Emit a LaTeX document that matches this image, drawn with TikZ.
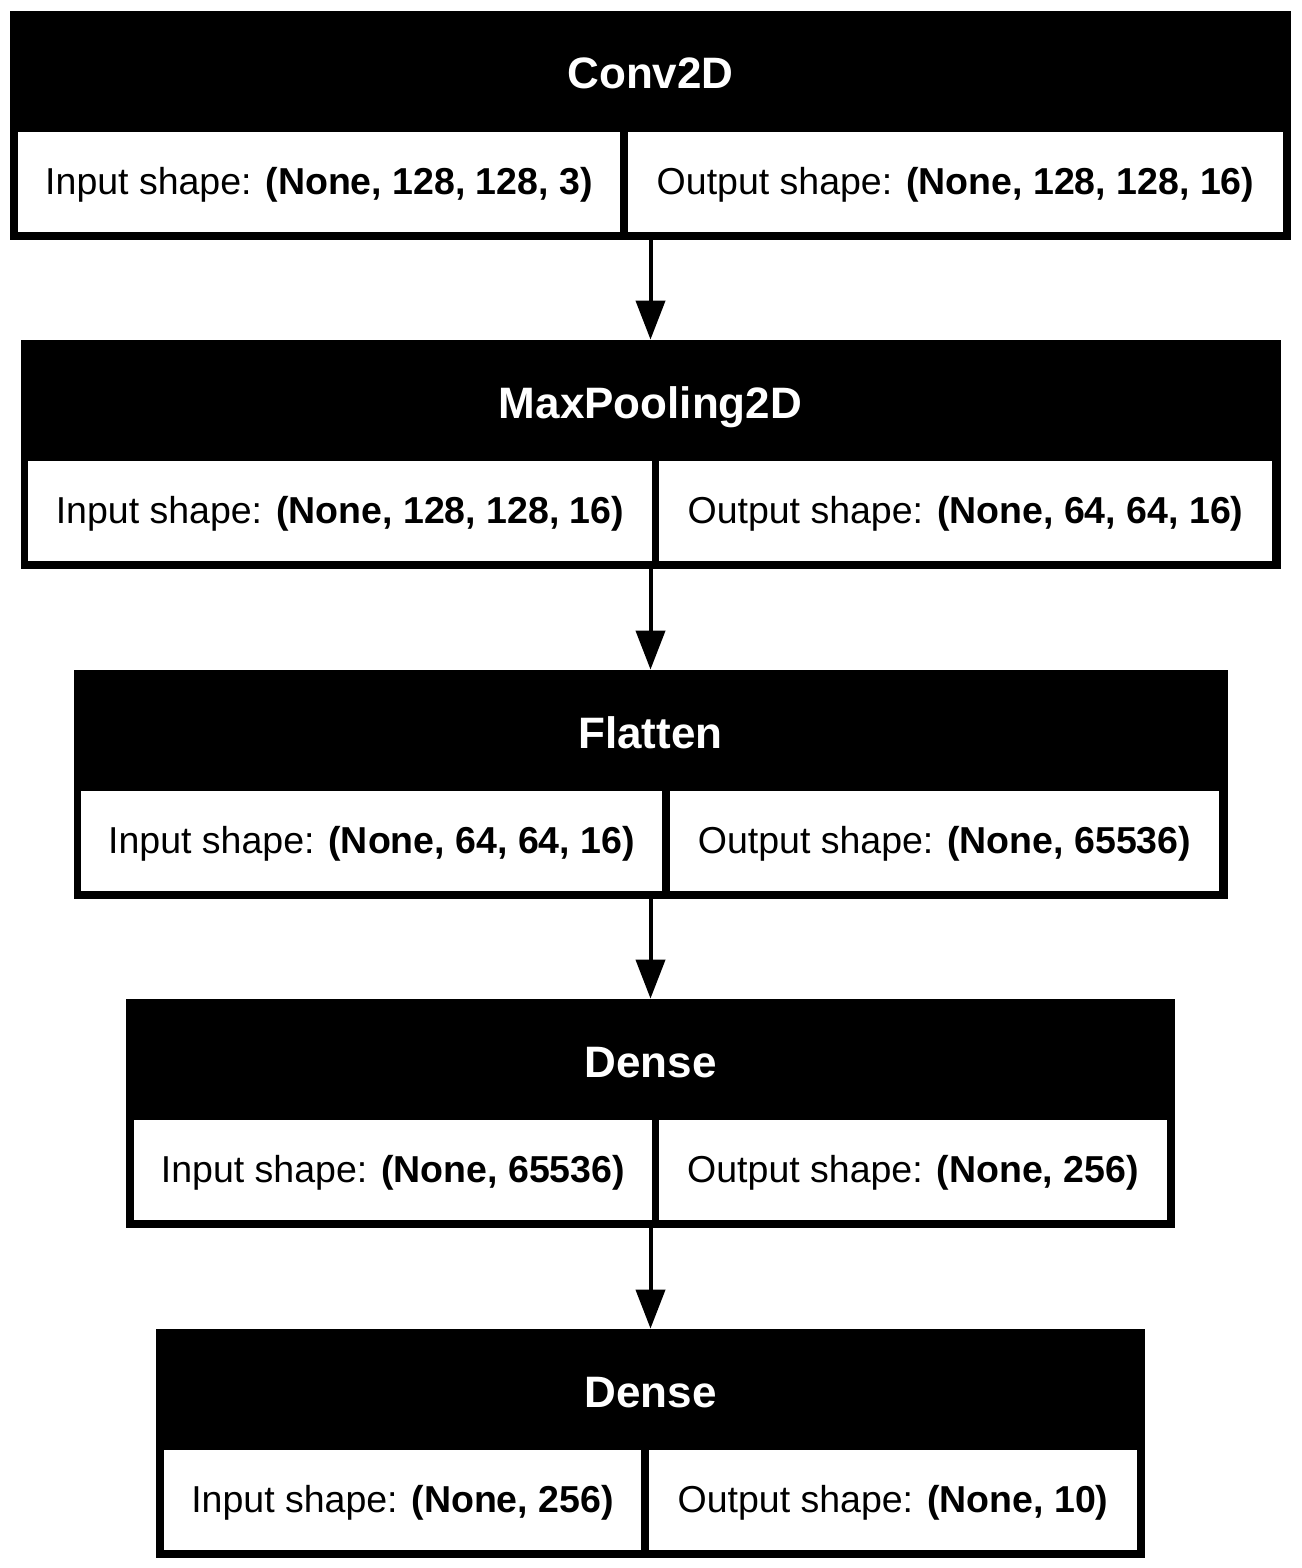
\documentclass[tikz,border=0pt]{standalone}
\usepackage{fontspec}
\setmainfont{Liberation Sans}
\usetikzlibrary{arrows.meta}

\tikzset{
  layer/.style={fill=black, inner sep=0pt, minimum height=114.5pt},
  cell/.style={fill=white},
  layername/.style={anchor=base, text=white, font=\fontsize{22}{26}\selectfont\bfseries},
  dims/.style={anchor=base, font=\fontsize{18.75}{22}\selectfont},
  flow/.style={line width=2pt, -{Triangle[length=19.5pt, width=14.5pt]}}
}

\begin{document}
\begin{tikzpicture}[x=0.5pt, y=-0.5pt]
  \useasboundingbox (0,0) rectangle (1301,1568);

  % Conv2D
  \node[layer, minimum width=640.5pt] (conv) at (650.5,125.5) {};
  \fill[cell] (18,132) rectangle (620,232);
  \fill[cell] (628,132) rectangle (1283,232);
  \node[layername] (conv-name) at (650.5,89) {Conv2D};
  \node[dims] (conv-in) at (319,194) {Input shape: \textbf{(None, 128, 128, 3)}};
  \node[dims] (conv-out) at (955.5,194) {Output shape: \textbf{(None, 128, 128, 16)}};

  % MaxPooling2D
  \node[layer, minimum width=630pt] (pool) at (650.5,454.5) {};
  \fill[cell] (28,461) rectangle (652,561);
  \fill[cell] (659,461) rectangle (1272,561);
  \node[layername] (pool-name) at (650.5,418) {MaxPooling2D};
  \node[dims] (pool-in) at (340,523) {Input shape: \textbf{(None, 128, 128, 16)}};
  \node[dims] (pool-out) at (965.5,523) {Output shape: \textbf{(None, 64, 64, 16)}};

  % Flatten
  \node[layer, minimum width=577pt] (flat) at (650.5,784.5) {};
  \fill[cell] (81,791) rectangle (662,891);
  \fill[cell] (670,791) rectangle (1219,891);
  \node[layername] (flat-name) at (650.5,748) {Flatten};
  \node[dims] (flat-in) at (371.5,853) {Input shape: \textbf{(None, 64, 64, 16)}};
  \node[dims] (flat-out) at (944.5,853) {Output shape: \textbf{(None, 65536)}};

  % Dense (hidden)
  \node[layer, minimum width=524.5pt] (dense) at (650.5,1113.5) {};
  \fill[cell] (134,1120) rectangle (652,1220);
  \fill[cell] (659,1120) rectangle (1167,1220);
  \node[layername] (dense-name) at (650.5,1077) {Dense};
  \node[dims] (dense-in) at (393,1182) {Input shape: \textbf{(None, 65536)}};
  \node[dims] (dense-out) at (913,1182) {Output shape: \textbf{(None, 256)}};

  % Dense (output)
  \node[layer, minimum width=494.5pt] (out) at (650.5,1443.5) {};
  \fill[cell] (164,1450) rectangle (641,1550);
  \fill[cell] (649,1450) rectangle (1137,1550);
  \node[layername] (out-name) at (650.5,1407) {Dense};
  \node[dims] (out-in) at (402.5,1512) {Input shape: \textbf{(None, 256)}};
  \node[dims] (out-out) at (893,1512) {Output shape: \textbf{(None, 10)}};

  % connections
  \draw[flow] (conv.south) -- (pool.north);
  \draw[flow] (pool.south) -- (flat.north);
  \draw[flow] (flat.south) -- (dense.north);
  \draw[flow] (dense.south) -- (out.north);
\end{tikzpicture}
\end{document}
